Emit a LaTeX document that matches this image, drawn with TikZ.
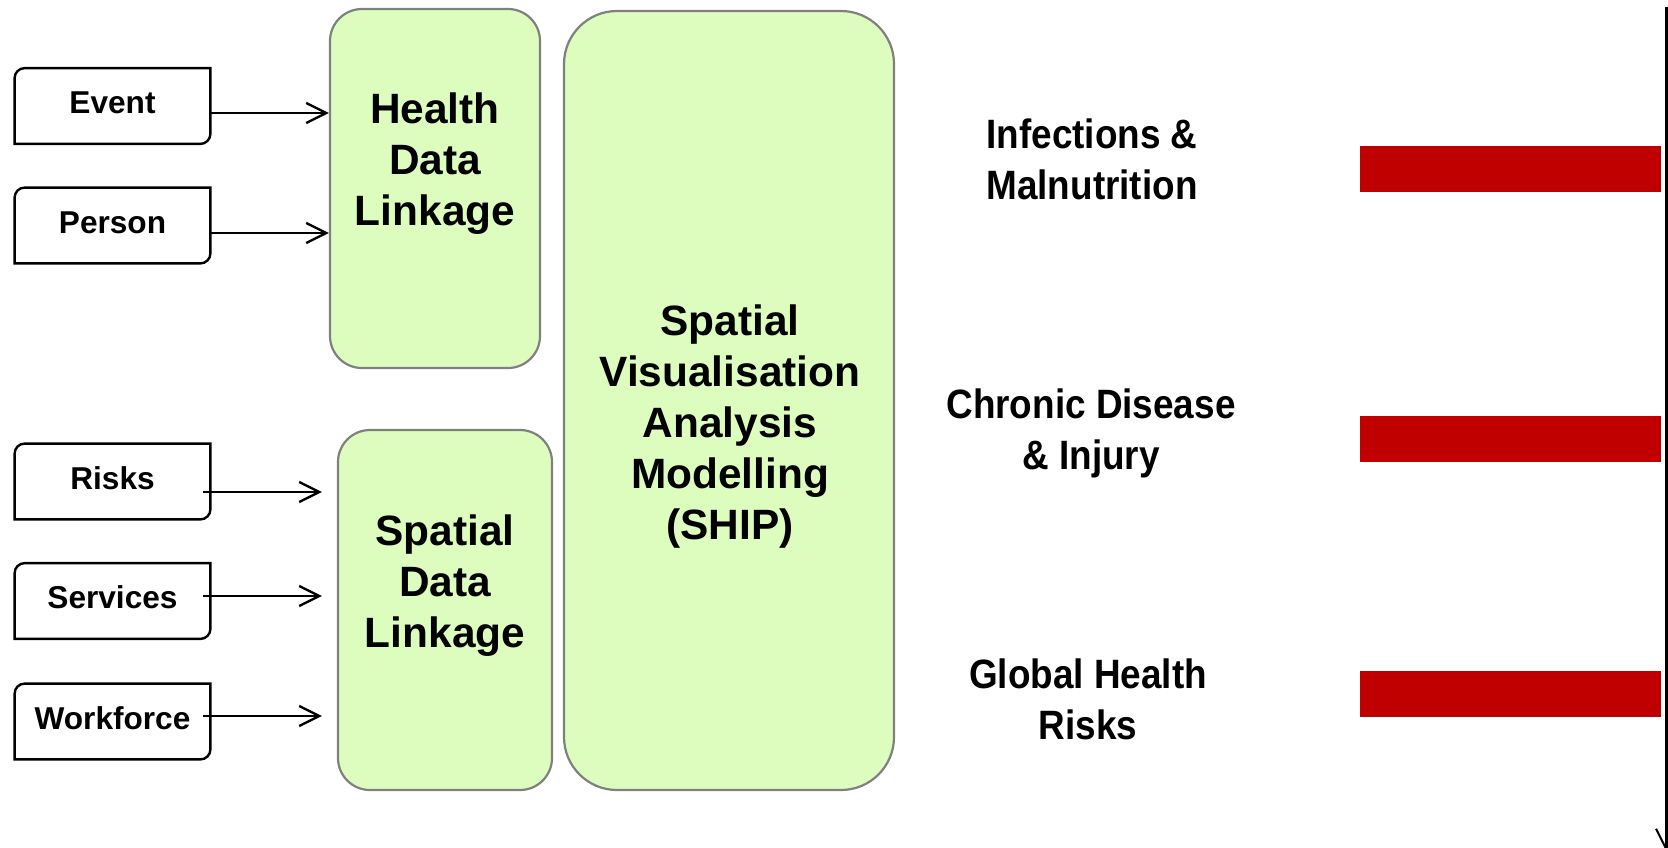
\documentclass[tikz,border=0pt]{standalone}
\usepackage{fontspec}
\setmainfont{Liberation Sans}
\newfontfamily\narrowfont[FakeStretch=0.9]{Liberation Sans}
\usetikzlibrary{arrows.meta,calc}
\definecolor{boxgreen}{RGB}{221,253,190}
\definecolor{boxgray}{RGB}{128,128,128}
\definecolor{barred}{RGB}{192,0,0}
\begin{document}
\begin{tikzpicture}[x=0.5pt,y=-0.5pt,
  inbox/.style={draw=none,minimum width=97.5pt,minimum height=37.5pt,inner sep=0pt,
    font=\fontsize{15.8}{18}\selectfont\bfseries,text height=11.3pt,text depth=3.5pt},
  inline/.style={line width=1.2pt,draw=black},
  bigbox/.style={draw=boxgray,line width=1.1pt,fill=boxgreen,inner sep=0pt},
  boxtext/.style={anchor=north,align=center,inner sep=0pt,
    font=\fontsize{21.2}{25.5}\selectfont\bfseries},
  outtext/.style={anchor=north,align=center,inner sep=0pt,
    font=\narrowfont\fontsize{20.5}{25.5}\selectfont\bfseries},
  arr/.style={line width=1.2pt,-{Straight Barb[length=10pt,width=10pt,line width=1.2pt]}},
  redbar/.style={fill=barred,draw=none,inner sep=0pt,minimum width=150.5pt,minimum height=23pt}]
\useasboundingbox (0,0) rectangle (1668,847);
% big boxes
\node[bigbox,rounded corners=16pt,minimum width=105pt,minimum height=179.5pt] (hdl) at (435,188.5) {};
\node[bigbox,rounded corners=16pt,minimum width=107pt,minimum height=180pt] (sdl) at (445,610) {};
\node[bigbox,rounded corners=26.5pt,minimum width=165pt,minimum height=389.5pt] (ship) at (729,400.5) {};
\node[boxtext] (hdltext) at (435,92) {Health\\Data\\Linkage};
\node[boxtext] (sdltext) at (445,514) {Spatial\\Data\\Linkage};
\node[boxtext] (shiptext) at (730,304) {Spatial\\Visualisation\\Analysis\\Modelling\\(SHIP)};
% small input boxes
\node[inbox] (ev) at (112.5,106) {Event};
\node[inbox] (pe) at (112.5,225.5) {Person};
\node[inbox] (ri) at (112.5,481.5) {Risks};
\node[inbox] (se) at (112.5,601) {Services};
\node[inbox] (wo) at (112.5,721.5) {Workforce};
\foreach \n in {ev,pe,ri,se,wo}{
  \draw[inline] ($(\n.north west)+(0,10)$) .. controls ($(\n.north west)+(0,4.5)$) and ($(\n.north west)+(4.5,0)$) .. ($(\n.north west)+(10,0)$)
    -- (\n.north east) -- ($(\n.south east)+(0,-10)$) .. controls ($(\n.south east)+(0,-4.5)$) and ($(\n.south east)+(-4.5,0)$) .. ($(\n.south east)+(-10,0)$)
    -- (\n.south west) -- cycle;
}
% arrows
\draw[arr] ([yshift=-3.5pt]ev.east) -- ([yshift=-3.5pt]ev.east -| hdl.west);
\draw[arr] ([yshift=-3.75pt]pe.east) -- ([yshift=-3.75pt]pe.east -| hdl.west);
\draw[arr,shorten >=7.5pt] ([xshift=-3.5pt,yshift=-5.25pt]ri.east) -- ([yshift=-5.25pt]ri.east -| sdl.west);
\draw[arr,shorten >=7.5pt] ([xshift=-3.5pt,yshift=2.5pt]se.east) -- ([yshift=2.5pt]se.east -| sdl.west);
\draw[arr,shorten >=7.5pt] ([xshift=-3.5pt,yshift=2.75pt]wo.east) -- ([yshift=2.75pt]wo.east -| sdl.west);
% outcome texts
\node[outtext] (inf) at (1092,118) {Infections \&\\Malnutrition};
\node[outtext] (chr) at (1091,388) {Chronic Disease\\\& Injury};
\node[outtext] (glo) at (1088,658) {Global Health\\Risks};
% red bars
\node[redbar] (bar1) at (1510.5,169) {};
\node[redbar] (bar2) at (1510.5,439) {};
\node[redbar] (bar3) at (1510.5,693.5) {};
% right vertical axis
\coordinate (axtop) at (1666,7);
\coordinate (axbot) at (1666,851);
\draw[line width=1.5pt,-{Straight Barb[length=10pt,width=10pt,line width=1pt]}] (axtop) -- (axbot);
\end{tikzpicture}
\end{document}
